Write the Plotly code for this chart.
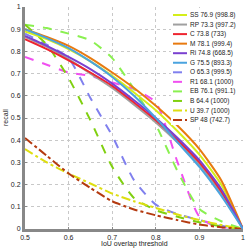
import plotly.graph_objects as go

# IoU thresholds
iou = [0.5, 0.55, 0.6, 0.65, 0.7, 0.75, 0.8, 0.85, 0.9, 0.95, 1.0]

# legend labels
labels = ["SS 76.9 (998.8)", "RP 73.3 (997.2)", "C 73.8 (733)", "M 78.1 (999.4)",
          "Ri 74.8 (668.5)", "G 75.5 (893.3)", "O 65.3 (999.5)", "R1 68.1 (1000)",
          "EB 76.1 (991.1)", "B 64.4 (1000)", "U 39.7 (1000)", "SP 48 (742.7)"]

# recall values per method
ss = [0.89, 0.855, 0.81, 0.755, 0.69, 0.615, 0.535, 0.44, 0.335, 0.20, 0.0]
rp = [0.865, 0.82, 0.765, 0.70, 0.635, 0.56, 0.48, 0.39, 0.29, 0.16, 0.0]
c = [0.855, 0.81, 0.76, 0.705, 0.645, 0.57, 0.49, 0.40, 0.30, 0.17, 0.0]
m = [0.90, 0.865, 0.825, 0.77, 0.705, 0.635, 0.555, 0.465, 0.36, 0.22, 0.0]
ri = [0.87, 0.825, 0.775, 0.72, 0.655, 0.58, 0.50, 0.41, 0.31, 0.18, 0.0]
g = [0.90, 0.86, 0.815, 0.755, 0.685, 0.60, 0.50, 0.39, 0.28, 0.15, 0.0]
o = [0.88, 0.83, 0.77, 0.59, 0.42, 0.22, 0.11, 0.067, 0.04, 0.015, 0.0]
r1 = [0.775, 0.74, 0.705, 0.69, 0.66, 0.63, 0.57, 0.30, 0.055, 0.0, 0.0]
eb = [0.92, 0.905, 0.88, 0.85, 0.77, 0.63, 0.47, 0.26, 0.09, 0.035, 0.0]
b = [0.92, 0.83, 0.68, 0.49, 0.28, 0.14, 0.085, 0.055, 0.03, 0.012, 0.0]
u = [0.36, 0.30, 0.25, 0.205, 0.16, 0.125, 0.095, 0.065, 0.04, 0.018, 0.0]
sp = [0.41, 0.33, 0.25, 0.185, 0.125, 0.088, 0.062, 0.04, 0.02, 0.008, 0.0]

series = [ss, rp, c, m, ri, g, o, r1, eb, b, u, sp]
colors = ["#d4ee1a", "#a0a0a0", "#ee2530", "#e87a10", "#7a40d0", "#4aa3df",
          "#8080ee", "#f050f0", "#8af050", "#80d010", "#dede10", "#b43a10"]
dashes = ["solid"] * 6 + ["dash"] * 4 + ["dashdot"] * 2

FAM = "Liberation Sans, Arial, sans-serif"

fig = go.Figure()
order = list(range(6, 12)) + list(range(0, 6))
for i in order:
    fig.add_trace(go.Scatter(x=iou, y=series[i], mode="lines", name=labels[i],
                             line=dict(color=colors[i], width=2, dash=dashes[i], shape="spline", smoothing=0.6),
                             showlegend=False))

fig.update_layout(
    width=249, height=250,
    margin=dict(l=25, r=6, t=7, b=21, autoexpand=False),
    paper_bgcolor="white", plot_bgcolor="white",
    font=dict(family=FAM, size=7, color="#222"),
    xaxis=dict(range=[0.5, 1.0], tickvals=[0.5, 0.6, 0.7, 0.8, 0.9, 1.0],
               ticktext=["0.5", "0.6", "0.7", "0.8", "0.9", "1"],
               tickfont=dict(family=FAM, size=7, color="#222"),
               showgrid=True, gridcolor="#c8c8c8", griddash="dot", gridwidth=1,
               showline=True, linecolor="#888", linewidth=3, zeroline=False,
               ticks="inside", ticklen=2, tickcolor="#888", ticklabelstandoff=0),
    yaxis=dict(range=[0, 1.0], tickvals=[0, 0.1, 0.2, 0.3, 0.4, 0.5, 0.6, 0.7, 0.8, 0.9, 1.0],
               ticktext=["0", "0.1", "0.2", "0.3", "0.4", "0.5", "0.6", "0.7", "0.8", "0.9", "1"],
               tickfont=dict(family=FAM, size=7, color="#222"),
               showgrid=True, gridcolor="#c8c8c8", griddash="dot", gridwidth=1,
               showline=True, linecolor="#888", linewidth=3, zeroline=False,
               ticks="inside", ticklen=2, tickcolor="#888", ticklabelstandoff=0),
)

plot_w, plot_h = 218, 222
def px_x(px):
    return (px - 25) / plot_w
def px_y(py):
    return 1 - (py - 7) / plot_h

shapes = [dict(type="rect", xref="paper", yref="paper", x0=px_x(171), x1=px_x(249),
               y0=px_y(125), y1=px_y(8), fillcolor="white", line=dict(width=0), layer="above")]
annotations = [
    dict(text="IoU overlap threshold", xref="paper", yref="paper", x=px_x(134), y=px_y(244),
         xanchor="center", yanchor="middle", showarrow=False, font=dict(family=FAM, size=7, color="#222")),
    dict(text="recall", xref="paper", yref="paper", x=px_x(5), y=px_y(118), textangle=-90,
         xanchor="center", yanchor="middle", showarrow=False, font=dict(family=FAM, size=7, color="#222")),
]
top_px, step_px = 15, 9.55
for k, lab in enumerate(labels):
    yp = px_y(top_px + k * step_px)
    shapes.append(dict(type="line", xref="paper", yref="paper",
                       x0=px_x(173), x1=px_x(187), y0=yp, y1=yp,
                       line=dict(color=colors[k], width=2, dash=dashes[k]), layer="above"))
    annotations.append(dict(text=lab, xref="paper", yref="paper", x=px_x(188), y=yp,
                            xanchor="left", yanchor="middle", showarrow=False,
                            font=dict(family=FAM, size=6.5, color="#222")))
fig.update_layout(shapes=shapes, annotations=annotations)

fig.write_html("out.html", config={"displayModeBar": False},
               post_script="document.body.style.margin='0';document.body.style.overflow='hidden';")
